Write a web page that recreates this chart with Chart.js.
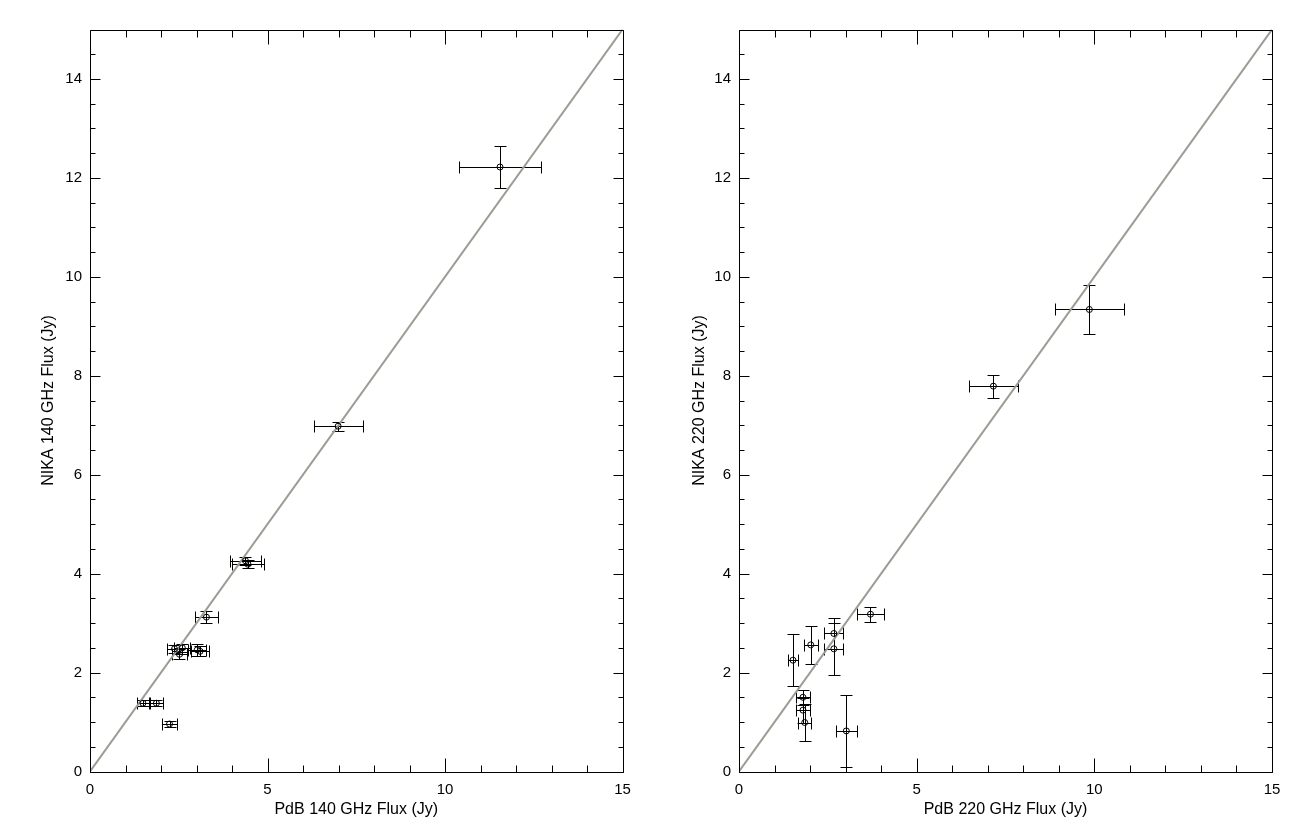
<!DOCTYPE html>
<html><head><meta charset="utf-8">
<script src="https://cdn.jsdelivr.net/npm/chart.js@4.4.1/dist/chart.umd.min.js"></script>
<style>
html,body{margin:0;padding:0;background:#fff;}
body{width:1300px;height:833px;overflow:hidden;position:relative;}
canvas{position:absolute;top:0;}
</style></head><body>
<canvas id="c1" width="650" height="833" style="left:0px"></canvas>
<canvas id="c2" width="651" height="833" style="left:649px"></canvas>
<script>
// ---- Data: left panel (140 GHz) ----
const pdb140 = [11.55, 6.99, 4.38, 4.45, 3.28, 2.38, 2.60, 2.52, 3.02, 3.10, 1.49, 1.87, 2.24];
const pdb140Err = [1.15, 0.69, 0.45, 0.45, 0.32, 0.20, 0.22, 0.22, 0.25, 0.25, 0.16, 0.19, 0.22];
const nika140 = [12.22, 6.98, 4.26, 4.19, 3.12, 2.48, 2.50, 2.37, 2.46, 2.43, 1.38, 1.38, 0.96];
const nika140Err = [0.43, 0.09, 0.08, 0.08, 0.12, 0.08, 0.08, 0.10, 0.12, 0.10, 0.06, 0.06, 0.06];
// ---- Data: right panel (220 GHz) ----
const pdb220 = [9.86, 7.16, 3.70, 1.52, 2.02, 2.67, 2.67, 1.80, 1.80, 1.85, 3.02];
const pdb220Err = [0.97, 0.70, 0.37, 0.14, 0.20, 0.27, 0.27, 0.19, 0.19, 0.19, 0.29];
const nika220 = [9.34, 7.79, 3.18, 2.25, 2.56, 2.79, 2.48, 1.50, 1.24, 0.99, 0.82];
const nika220Err = [0.50, 0.23, 0.15, 0.52, 0.39, 0.31, 0.53, 0.15, 0.25, 0.38, 0.72];
// one-to-one line
const oneToOne = [0, 15];
// axis ranges / ticks
const axisMin = 0, axisMax = 15;
const xMajorStep = 5, xMinorStep = 1;
const yMajorStep = 2, yMinorStep = 0.5;

const FONT = "'Liberation Sans', Arial, Helvetica, sans-serif";

const decor = {
  id: 'decor',
  beforeDatasetsDraw(chart, args, opts) {
    const ctx = chart.ctx, xs = chart.scales.x, ys = chart.scales.y;
    // error bars
    ctx.save();
    ctx.strokeStyle = '#000';
    ctx.lineWidth = 1;
    const cap = 6;
    const X = opts.xv, Y = opts.yv, XE = opts.xe, YE = opts.ye;
    for (let i = 0; i < X.length; i++) {
      const px = xs.getPixelForValue(X[i]), py = ys.getPixelForValue(Y[i]);
      const x1 = xs.getPixelForValue(X[i] - XE[i]), x2 = xs.getPixelForValue(X[i] + XE[i]);
      const y1 = ys.getPixelForValue(Y[i] - YE[i]), y2 = ys.getPixelForValue(Y[i] + YE[i]);
      const cx = Math.round(px) + 0.5, cy = Math.round(py) + 0.5;
      ctx.beginPath();
      ctx.moveTo(Math.round(x1) + 0.5, cy); ctx.lineTo(Math.round(x2) + 0.5, cy);
      ctx.moveTo(Math.round(x1) + 0.5, cy - cap); ctx.lineTo(Math.round(x1) + 0.5, cy + cap);
      ctx.moveTo(Math.round(x2) + 0.5, cy - cap); ctx.lineTo(Math.round(x2) + 0.5, cy + cap);
      ctx.moveTo(cx, Math.round(y1) + 0.5); ctx.lineTo(cx, Math.round(y2) + 0.5);
      ctx.moveTo(cx - cap, Math.round(y1) + 0.5); ctx.lineTo(cx + cap, Math.round(y1) + 0.5);
      ctx.moveTo(cx - cap, Math.round(y2) + 0.5); ctx.lineTo(cx + cap, Math.round(y2) + 0.5);
      ctx.stroke();
    }
    ctx.restore();
  },
  afterDraw(chart) {
    const ctx = chart.ctx, xs = chart.scales.x, ys = chart.scales.y, a = chart.chartArea;
    ctx.save();
    ctx.strokeStyle = '#000';
    ctx.lineWidth = 1;
    const L = Math.round(a.left) + 0.5, R = Math.round(a.right) + 0.5;
    const T = Math.round(a.top) + 0.5, B = Math.round(a.bottom) + 0.5;
    ctx.beginPath();
    ctx.rect(L, T, R - L, B - T);
    // x ticks
    for (let v = axisMin; v <= axisMax + 1e-9; v += xMinorStep) {
      const major = Math.abs(v / xMajorStep - Math.round(v / xMajorStep)) < 1e-6;
      const len = major ? 14 : 7;
      const p = Math.round(xs.getPixelForValue(v)) + 0.5;
      ctx.moveTo(p, B); ctx.lineTo(p, B - len);
      ctx.moveTo(p, T); ctx.lineTo(p, T + len);
    }
    // y ticks
    for (let v = axisMin; v <= axisMax + 1e-9; v += yMinorStep) {
      const major = Math.abs(v / yMajorStep - Math.round(v / yMajorStep)) < 1e-6;
      const len = major ? 10 : 5;
      const p = Math.round(ys.getPixelForValue(v)) + 0.5;
      ctx.moveTo(L, p); ctx.lineTo(L + len, p);
      ctx.moveTo(R, p); ctx.lineTo(R - len, p);
    }
    ctx.stroke();
    ctx.restore();
  }
};

function makeChart(id, xv, xe, yv, ye, xTitle, yTitle, padRight, yTitlePad) {
  const pts = xv.map((x, i) => ({x: x, y: yv[i]}));
  return new Chart(document.getElementById(id), {
    type: 'scatter',
    data: {
      datasets: [
        {
          data: [{x: oneToOne[0], y: oneToOne[0]}, {x: oneToOne[1], y: oneToOne[1]}],
          showLine: true, pointRadius: 0, borderColor: '#9c9c94', borderWidth: 2, order: 2
        },
        {
          data: pts, pointRadius: 3, pointHoverRadius: 3, borderWidth: 1,
          pointBorderColor: '#000', pointBackgroundColor: 'rgba(0,0,0,0)', order: 1
        }
      ]
    },
    options: {
      responsive: false, animation: false, devicePixelRatio: 1,
      events: [],
      layout: {padding: {left: 0, right: padRight, top: 29.5, bottom: 0}},
      plugins: {legend: {display: false}, tooltip: {enabled: false},
        decor: {xv: xv, xe: xe, yv: yv, ye: ye}},
      scales: {
        x: {
          type: 'linear', min: axisMin, max: axisMax,
          grid: {display: false, drawTicks: false}, border: {display: false},
          ticks: {stepSize: xMajorStep, padding: 9, color: '#000', font: {family: FONT, size: 15}, maxRotation: 0},
          title: {display: true, text: xTitle, color: '#000', font: {family: FONT, size: 16}, padding: {top: 0, bottom: 14}},
          afterFit: (s) => { s.height = 61.5; }
        },
        y: {
          type: 'linear', min: axisMin, max: axisMax,
          grid: {display: false, drawTicks: false}, border: {display: false},
          ticks: {stepSize: yMajorStep, padding: 8, color: '#000', font: {family: FONT, size: 15},
            callback: (v) => (v > 14 ? '' : String(v))},
          title: {display: true, text: yTitle, color: '#000', font: {family: FONT, size: 16}, padding: {top: yTitlePad, bottom: 0}},
          afterFit: (s) => { s.width = 90; }
        }
      }
    },
    plugins: [decor]
  });
}

makeChart('c1', pdb140, pdb140Err, nika140, nika140Err, 'PdB 140 GHz Flux (Jy)', 'NIKA 140 GHz Flux (Jy)', 27.5, 39);
makeChart('c2', pdb220, pdb220Err, nika220, nika220Err, 'PdB 220 GHz Flux (Jy)', 'NIKA 220 GHz Flux (Jy)', 28, 41);
</script>
</body></html>
